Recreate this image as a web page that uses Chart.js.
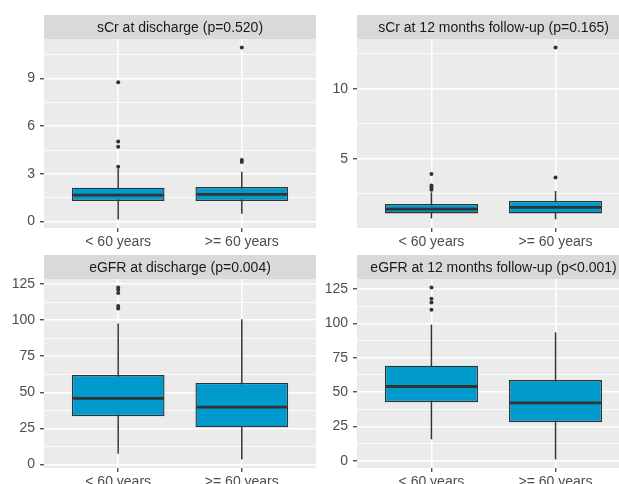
<!DOCTYPE html>
<html>
<head>
<meta charset="utf-8">
<script src="https://cdn.jsdelivr.net/npm/chart.js@4.4.1/dist/chart.umd.min.js"></script>
<style>
  html, body { margin: 0; padding: 0; background: #fff; overflow: hidden; }
  #app { position: relative; width: 619px; height: 484px; overflow: hidden; }
  canvas { position: absolute; }
</style>
</head>
<body>
<div id="app">
  <canvas id="p1" width="320" height="254" style="left:0px;top:0px"></canvas>
  <canvas id="p2" width="320" height="254" style="left:320px;top:0px"></canvas>
  <canvas id="p3" width="320" height="250" style="left:0px;top:254px"></canvas>
  <canvas id="p4" width="320" height="250" style="left:320px;top:254px"></canvas>
</div>
<script>
// groups on the x axis
var groups = ['< 60 years', '>= 60 years'];

// panel titles (sCr discharge, sCr 12m, eGFR discharge, eGFR 12m)
var titles = [
    'sCr at discharge (p=0.520)',
    'sCr at 12 months follow-up (p=0.165)',
    'eGFR at discharge (p=0.004)',
    'eGFR at 12 months follow-up (p<0.001)'
];

// box plot stats, one pair [<60, >=60] per panel
var whiskerLow  = [[0.13, 0.49], [0.74, 0.67], [7.4, 3.5],   [15.8, 1.2]];
var quartile1   = [[1.29, 1.29], [1.10, 1.10], [33.4, 25.7], [42.7, 28.2]];
var medians     = [[1.66, 1.71], [1.41, 1.53], [45.8, 39.7], [54.1, 42.2]];
var quartile3   = [[2.13, 2.17], [1.77, 1.99], [61.9, 56.5], [69.2, 58.8]];
var whiskerHigh = [[3.30, 3.13], [2.60, 2.70], [97.7, 100.5], [99.0, 93.4]];

// outlier points
var outliers = [
    [[3.44, 4.71, 5.03, 8.77], [3.75, 3.87, 10.95]],
    [[2.78, 2.94, 3.09, 3.92], [3.66, 12.94]],
    [[108.0, 109.8, 118.8, 121.0, 122.5], []],
    [[109.8, 115.1, 117.8, 125.9], []]
];

// labelled y ticks
var yTicks = [
    [0, 3, 6, 9],
    [5, 10],
    [0, 25, 50, 75, 100, 125],
    [0, 25, 50, 75, 100, 125]
];

var FONT = '"Liberation Sans", Arial, sans-serif';
var BOX_FILL = '#009ACD';
var DARK = '#333333';
var STRIP_H = 24;

var panelDecor = {
    id: 'panelDecor',
    beforeDraw: function (chart, args, opts) {
        var ctx = chart.ctx, a = chart.chartArea;
        ctx.save();
        ctx.fillStyle = '#EBEBEB';
        ctx.fillRect(a.left, a.top, a.right - a.left, a.bottom - a.top);
        ctx.fillStyle = '#D9D9D9';
        ctx.fillRect(a.left, a.top - STRIP_H, a.right - a.left, STRIP_H);
        ctx.fillStyle = '#1A1A1A';
        ctx.font = '14px ' + FONT;
        ctx.textAlign = 'center';
        ctx.textBaseline = 'middle';
        ctx.fillText(opts.title, (a.left + a.right) / 2, a.top - STRIP_H / 2 + 1);
        ctx.restore();
    },
    afterDatasetsDraw: function (chart, args, opts) {
        var ctx = chart.ctx;
        var meta = chart.getDatasetMeta(1);
        var y = chart.scales.y;
        ctx.save();
        ctx.strokeStyle = DARK;
        ctx.lineWidth = 2.8;
        meta.data.forEach(function (bar, i) {
            var py = y.getPixelForValue(opts.medians[i]);
            ctx.beginPath();
            ctx.moveTo(bar.x - bar.width / 2 + 1, py);
            ctx.lineTo(bar.x + bar.width / 2 - 1, py);
            ctx.stroke();
        });
        ctx.restore();
    }
};

function makePanel(id, k, layout) {
    // y range like ggplot: data range expanded by 5%
    var all = whiskerLow[k].concat(whiskerHigh[k], outliers[k][0], outliers[k][1]);
    var lo = Math.min.apply(null, all), hi = Math.max.apply(null, all);
    var pad = (hi - lo) * 0.05;
    var yMin = lo - pad, yMax = hi + pad;

    var major = yTicks[k];
    var step = major[1] - major[0];
    var gridVals = [];
    for (var v = major[0] - step; v <= major[major.length - 1] + step + 1e-9; v += step / 2) {
        if (v >= yMin && v <= yMax) gridVals.push(+v.toFixed(6));
    }
    function isMajor(v) { return major.indexOf(v) >= 0; }

    var whiskers = [], boxes = [], pts = [];
    for (var g = 0; g < groups.length; g++) {
        whiskers.push({ x: g + 1, y: [whiskerLow[k][g], whiskerHigh[k][g]] });
        boxes.push({ x: g + 1, y: [quartile1[k][g], quartile3[k][g]] });
        outliers[k][g].forEach(function (o) { pts.push({ x: g + 1, y: o }); });
    }

    new Chart(document.getElementById(id), {
        type: 'bar',
        data: {
            datasets: [{
                data: whiskers,
                grouped: false,
                order: 3,
                backgroundColor: DARK,
                borderWidth: 0,
                categoryPercentage: 1,
                barPercentage: 0.012
            }, {
                data: boxes,
                grouped: false,
                order: 2,
                backgroundColor: BOX_FILL,
                borderColor: DARK,
                borderWidth: 1.4,
                borderSkipped: false,
                categoryPercentage: 1,
                barPercentage: 0.75
            }, {
                type: 'scatter',
                data: pts,
                order: 1,
                pointRadius: 2,
                pointBackgroundColor: DARK,
                pointBorderWidth: 0
            }]
        },
        options: {
            responsive: false,
            animation: false,
            events: [],
            layout: { padding: layout.padding },
            plugins: {
                legend: { display: false },
                tooltip: { enabled: false },
                panelDecor: { title: titles[k], medians: medians[k] }
            },
            scales: {
                x: {
                    type: 'linear',
                    min: 0.4,
                    max: 2.6,
                    offset: false,
                    afterBuildTicks: function (scale) {
                        scale.ticks = groups.map(function (n, i) { return { value: i + 1 }; });
                    },
                    afterFit: function (scale) { scale.height = layout.xHeight; },
                    ticks: {
                        autoSkip: false,
                        maxRotation: 0,
                        padding: 2,
                        color: '#4D4D4D',
                        font: { family: FONT, size: 14 },
                        callback: function (value) { return groups[value - 1]; }
                    },
                    grid: {
                        offset: false,
                        color: '#FFFFFF',
                        lineWidth: 1.5,
                        tickColor: DARK,
                        tickWidth: 1.2,
                        tickLength: 4
                    },
                    border: { display: false }
                },
                y: {
                    min: yMin,
                    max: yMax,
                    afterBuildTicks: function (scale) {
                        scale.ticks = gridVals.map(function (v) { return { value: v }; });
                    },
                    afterFit: function (scale) { scale.width = layout.yWidth; },
                    ticks: {
                        autoSkip: false,
                        padding: 5,
                        color: '#4D4D4D',
                        font: { family: FONT, size: 14 },
                        callback: function (value) { return isMajor(value) ? String(value) : ''; }
                    },
                    grid: {
                        color: '#FFFFFF',
                        lineWidth: function (c) { return c.tick && isMajor(c.tick.value) ? 1.5 : 0.8; },
                        tickColor: function (c) { return c.tick && isMajor(c.tick.value) ? DARK : 'rgba(0,0,0,0)'; },
                        tickWidth: 1.2,
                        tickLength: 4
                    },
                    border: { display: false }
                }
            }
        },
        plugins: [panelDecor]
    });
}

// right-hand panels run past the window edge, as in the cropped original
makePanel('p1', 0, { padding: { top: 39, right: 2, left: 0, bottom: 0 }, yWidth: 44, xHeight: 26 });
makePanel('p2', 1, { padding: { top: 39, right: 10, left: 0, bottom: 0 }, yWidth: 37, xHeight: 26 });
makePanel('p3', 2, { padding: { top: 25, right: 2, left: 0, bottom: 0 }, yWidth: 44, xHeight: 36 });
makePanel('p4', 3, { padding: { top: 25, right: 10, left: 0, bottom: 0 }, yWidth: 37, xHeight: 36 });
</script>
</body>
</html>
